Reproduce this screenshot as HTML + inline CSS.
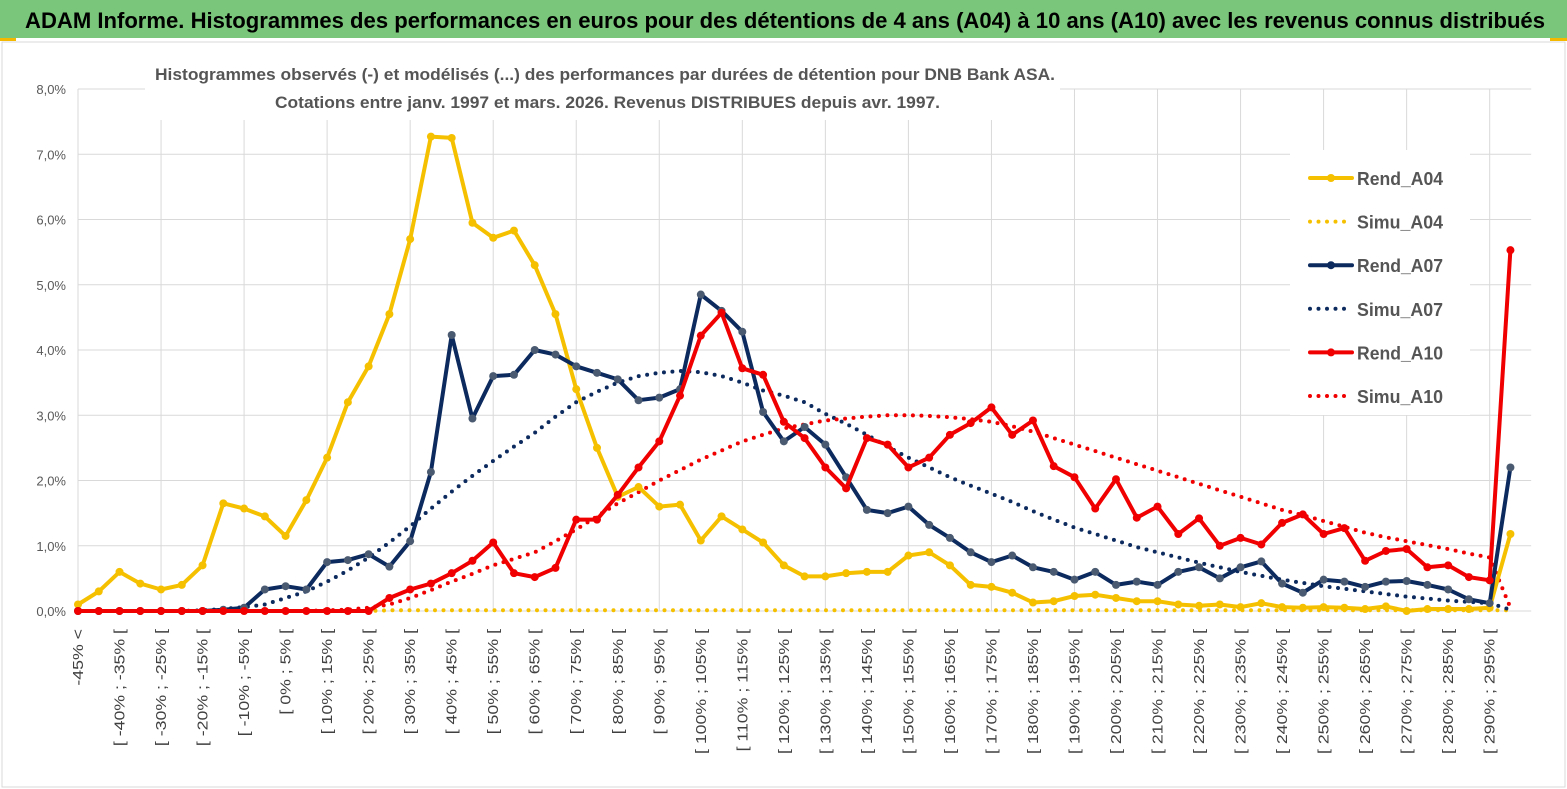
<!DOCTYPE html>
<html><head><meta charset="utf-8">
<style>
html,body{margin:0;padding:0;background:#fff;}
svg{display:block;font-family:"Liberation Sans",sans-serif;}
</style></head>
<body>
<svg id="chart" width="1567" height="789" viewBox="0 0 1567 789" xmlns="http://www.w3.org/2000/svg">
<rect x="0" y="0" width="1567" height="789" fill="#fff"/>
<rect x="0" y="0" width="1567" height="38" fill="#7ac67a"/>
<rect x="0" y="38" width="16" height="3" fill="#f5b800"/>
<rect x="1550" y="38" width="17" height="3" fill="#f5b800"/>
<text x="25" y="28" font-size="22" font-weight="bold" fill="#000" textLength="1520" lengthAdjust="spacingAndGlyphs">ADAM Informe. Histogrammes des performances en euros pour des détentions de 4 ans (A04) à 10 ans (A10) avec les revenus connus distribués</text>
<rect x="2" y="42" width="1563" height="745" fill="none" stroke="#d9d9d9" stroke-width="1"/>
<g id="grid"></g>
<g id="yaxis"></g>
<g id="xaxis"></g>
<rect x="145" y="55" width="915" height="65" fill="#fff"/>
<text x="155" y="80" font-size="17" font-weight="bold" fill="#555" textLength="900" lengthAdjust="spacingAndGlyphs">Histogrammes observés (-) et modélisés (...) des performances par durées de détention pour DNB Bank ASA.</text>
<text x="275" y="108" font-size="17" font-weight="bold" fill="#555" textLength="665" lengthAdjust="spacingAndGlyphs">Cotations entre janv. 1997 et mars. 2026. Revenus DISTRIBUES depuis avr. 1997.</text>
<g id="series"></g>
<rect x="1290" y="150" width="180" height="265" fill="#fff"/>
<g id="legend"></g>
</svg>
<script>
const NS="http://www.w3.org/2000/svg";
const rendA04=[0.1,0.3,0.6,0.42,0.33,0.4,0.7,1.65,1.57,1.45,1.15,1.7,2.35,3.2,3.75,4.55,5.7,7.27,7.25,5.95,5.72,5.83,5.3,4.55,3.4,2.5,1.75,1.9,1.6,1.63,1.08,1.45,1.25,1.05,0.7,0.53,0.53,0.58,0.6,0.6,0.85,0.9,0.7,0.4,0.37,0.28,0.13,0.15,0.23,0.25,0.2,0.15,0.15,0.1,0.08,0.1,0.06,0.12,0.06,0.05,0.06,0.05,0.03,0.07,0.0,0.03,0.03,0.03,0.05,1.18];
const rendA07=[0,0,0,0,0,0,0,0.02,0.05,0.33,0.38,0.33,0.75,0.78,0.87,0.68,1.07,2.13,4.23,2.95,3.6,3.62,4.0,3.93,3.75,3.65,3.55,3.23,3.27,3.4,4.85,4.6,4.28,3.05,2.6,2.82,2.55,2.05,1.55,1.5,1.6,1.32,1.12,0.9,0.75,0.85,0.67,0.6,0.48,0.6,0.4,0.45,0.4,0.6,0.67,0.5,0.67,0.76,0.42,0.28,0.48,0.45,0.37,0.45,0.46,0.4,0.33,0.18,0.12,2.2];
const rendA10=[0,0,0,0,0,0,0,0,0,0,0,0,0,0,0,0.2,0.33,0.42,0.58,0.77,1.05,0.58,0.52,0.66,1.4,1.4,1.78,2.2,2.6,3.3,4.22,4.57,3.72,3.62,2.9,2.65,2.2,1.88,2.65,2.55,2.2,2.35,2.7,2.88,3.12,2.7,2.92,2.22,2.05,1.57,2.02,1.43,1.6,1.18,1.42,1.0,1.12,1.02,1.35,1.48,1.18,1.27,0.77,0.92,0.95,0.67,0.7,0.52,0.47,5.53];
const simuA04=[0,0,0,0,0,0,0,0,0,0,0,0,0,0,0,0.01,0.01,0.01,0.01,0.01,0.01,0.01,0.01,0.01,0.01,0.01,0.01,0.01,0.01,0.01,0.01,0.01,0.01,0.01,0.01,0.01,0.01,0.01,0.01,0.01,0.01,0.01,0.01,0.01,0.01,0.01,0.01,0.01,0.01,0.01,0.01,0.01,0.01,0.01,0.01,0.01,0.01,0.01,0.01,0.01,0.01,0.01,0.01,0.01,0.01,0.01,0.01,0.01,0.01,0.01];
const simuA07=[0,0,0,0,0,0,0.01,0.03,0.06,0.1,0.2,0.3,0.45,0.62,0.82,1.05,1.3,1.57,1.83,2.07,2.3,2.52,2.73,2.98,3.2,3.36,3.5,3.6,3.65,3.68,3.66,3.6,3.5,3.38,3.3,3.2,3.02,2.87,2.7,2.52,2.35,2.2,2.05,1.92,1.8,1.67,1.53,1.4,1.28,1.18,1.08,0.98,0.9,0.82,0.74,0.67,0.6,0.54,0.48,0.43,0.38,0.34,0.3,0.26,0.22,0.19,0.16,0.14,0.12,0.02];
const simuA10=[0,0,0,0,0,0,0,0,0,0,0,0,0.01,0.02,0.05,0.1,0.2,0.32,0.45,0.57,0.7,0.8,0.9,1.07,1.25,1.45,1.65,1.82,2.0,2.16,2.32,2.46,2.6,2.7,2.8,2.86,2.92,2.95,2.98,3.0,3.0,2.99,2.97,2.94,2.9,2.83,2.75,2.65,2.55,2.45,2.35,2.25,2.15,2.05,1.95,1.85,1.75,1.65,1.55,1.47,1.38,1.29,1.2,1.13,1.07,1.01,0.95,0.88,0.82,0.05];
const yTicks=[0,1,2,3,4,5,6,7,8];
const categories=["-45% <"];
for(let k=1;k<70;k++){const a=-45+5*(k-1);categories.push("[ "+a+"% ; "+(a+5)+"% [");}

const X0=78, DX=20.76, Y0=611, PY=65.25;
const xs=i=>X0+DX*i;
const ys=v=>Y0-PY*v;
function mk(tag,attrs,parent){const e=document.createElementNS(NS,tag);for(const k in attrs)e.setAttribute(k,attrs[k]);parent.appendChild(e);return e;}
const grid=document.getElementById('grid'), yax=document.getElementById('yaxis'), xax=document.getElementById('xaxis'), ser=document.getElementById('series'), leg=document.getElementById('legend');

yTicks.forEach(t=>{
  const l=mk('line',{x1:X0,x2:xs(categories.length),y1:ys(t),y2:ys(t),stroke:'#d9d9d9','stroke-width':1},grid);
  
  
  const tx=mk('text',{x:66,y:ys(t)+5,'font-size':13,fill:'#595959','text-anchor':'end'},yax);
  tx.textContent=t.toFixed(1).replace('.',',')+'%';
  
  
});
for(let i=0;i<=categories.length;i+=4){
  const l=mk('line',{x1:xs(i),x2:xs(i),y1:ys(8),y2:Y0,stroke:'#d9d9d9','stroke-width':1},grid);
  
  
}
categories.forEach((c,i)=>{
  if(i%2!==0) return;
  const x=xs(i), y=629;
  const tx=mk('text',{x:x,y:y,'font-size':15,fill:'#404040','text-anchor':'end',transform:`rotate(-90 ${x} ${y}) translate(0 5)`},xax);
  tx.textContent=c;
  
  
  const L=tx.getComputedTextLength();
  if(L>0){tx.setAttribute('textLength',(L*1.18).toFixed(1));tx.setAttribute('lengthAdjust','spacingAndGlyphs');}
});

function drawLine(vals,color,dotted,markerColor,name){
  const g=mk('g',{},ser);
  
  
  const d=vals.map((v,i)=>(i?'L':'M')+xs(i).toFixed(1)+' '+ys(v).toFixed(1)).join(' ');
  const p=mk('path',{d:d,fill:'none',stroke:color,'stroke-width':4,'stroke-linejoin':'round','stroke-linecap':'round'},g);
  if(dotted){p.setAttribute('stroke-dasharray','0 8.5');}
  
  
  if(!dotted){
    vals.forEach((v,i)=>{
      const c=mk('circle',{cx:xs(i),cy:ys(v),r:4,fill:markerColor},g);
      
      
    });
  }
}
drawLine(simuA04,'#f5c000',true,null,'simu-a04');
drawLine(simuA07,'#0c2a5e',true,null,'simu-a07');
drawLine(simuA10,'#f00000',true,null,'simu-a10');
drawLine(rendA04,'#f5c000',false,'#f5c000','rend-a04');
drawLine(rendA07,'#0c2a5e',false,'#4a5a70','rend-a07');
drawLine(rendA10,'#f00000',false,'#f00000','rend-a10');

const legItems=[["Rend_A04",'#f5c000',false],["Simu_A04",'#f5c000',true],["Rend_A07",'#0c2a5e',false],["Simu_A07",'#0c2a5e',true],["Rend_A10",'#f00000',false],["Simu_A10",'#f00000',true]];
legItems.forEach((it,k)=>{
  const y=178+43.6*k;
  const g=mk('g',{},leg);
  
  
  const l=mk('line',{x1:1310,x2:1352,y1:y,y2:y,stroke:it[1],'stroke-width':4,'stroke-linecap':'round'},g);
  if(it[2]) l.setAttribute('stroke-dasharray','0 8.5');
  else mk('circle',{cx:1331,cy:y,r:4,fill:it[1]},g);
  const t=mk('text',{x:1357,y:y+7,'font-size':18,'font-weight':'bold',fill:'#555',textLength:86,lengthAdjust:'spacingAndGlyphs'},g);
  t.textContent=it[0];
});
</script>
</body></html>
